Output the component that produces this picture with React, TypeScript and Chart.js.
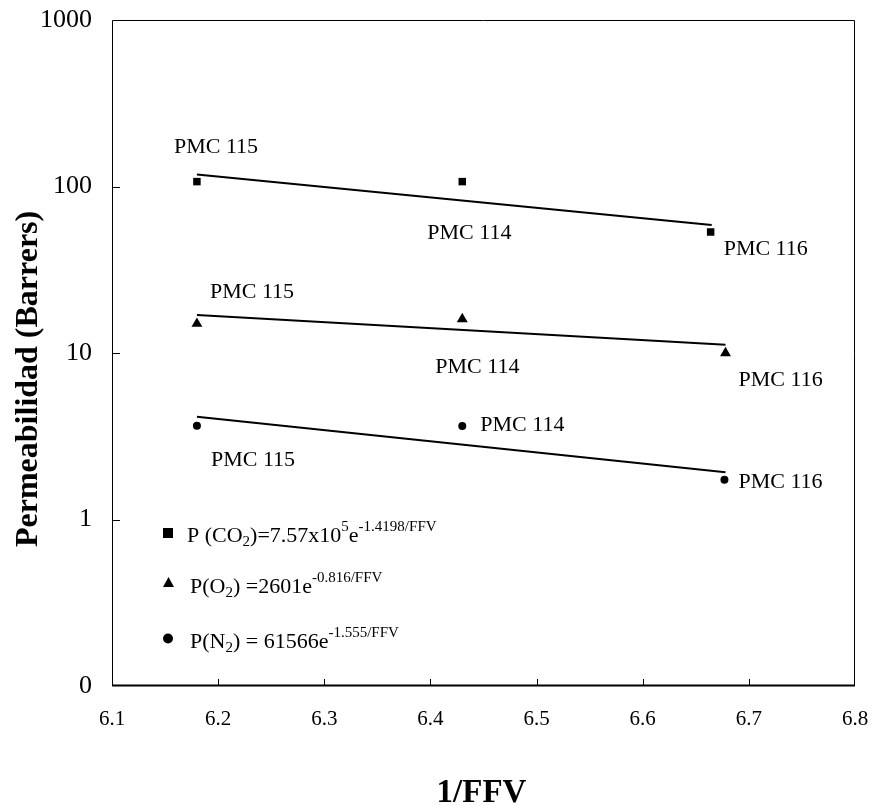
import React, { useEffect, useRef } from "react";
import { Chart, registerables } from "chart.js";

Chart.register(...registerables);

// ---- Axis ticks ----
const xTickValues = [6.1, 6.2, 6.3, 6.4, 6.5, 6.6, 6.7, 6.8];
const yTickValues = [0.1, 1, 10, 100, 1000];
const yTickLabels = ["0", "1", "10", "100", "1000"];

// ---- Measured points (x = 1/FFV, y = permeability in Barrers) ----
const co2X = [6.18, 6.43, 6.664];
const co2Y = [107, 107, 53.3];
const o2X = [6.18, 6.43, 6.678];
const o2Y = [15.0, 16.0, 10.0];
const n2X = [6.18, 6.43, 6.677];
const n2Y = [3.66, 3.65, 1.73];

// ---- Fitted trend lines (end points) ----
const co2FitX = [6.18, 6.665];
const co2FitY = [118, 58.7];
const o2FitX = [6.18, 6.678];
const o2FitY = [16.9, 11.2];
const n2FitX = [6.18, 6.678];
const n2FitY = [4.14, 1.92];

// ---- Point labels ----
const co2Labels = ["PMC 115", "PMC 114", "PMC 116"];
const o2Labels = ["PMC 115", "PMC 114", "PMC 116"];
const n2Labels = ["PMC 115", "PMC 114", "PMC 116"];

// ---- Legend equations: [text, kind] kind: n normal, b subscript, p superscript ----
const co2Equation: [string, string][] = [["P (CO", "n"], ["2", "b"], [")=7.57x10", "n"], ["5", "p"], ["e", "n"], ["-1.4198/FFV", "p"]];
const o2Equation: [string, string][] = [["P(O", "n"], ["2", "b"], [") =2601e", "n"], ["-0.816/FFV", "p"]];
const n2Equation: [string, string][] = [["P(N", "n"], ["2", "b"], [") = 61566e", "n"], ["-1.555/FFV", "p"]];

const xTitle = "1/FFV";
const yTitle = "Permeabilidad (Barrers)";

const SERIF = '"Liberation Serif", "Times New Roman", serif';

const pts = (xs: number[], ys: number[]) => xs.map((x, i) => ({ x, y: ys[i] }));

// pixel offsets of each label (left edge, baseline) from its point
const labelOffsets = [
  [[-23, -29], [-35, 57], [13, 23]],
  [[13, -26], [-27, 54], [13, 33]],
  [[14, 40], [18, 5], [14, 8]],
];

function drawRich(ctx: CanvasRenderingContext2D, x: number, baseline: number, parts: [string, string][]) {
  let cx = x;
  for (const [t, k] of parts) {
    const size = k === "n" ? 22 : 15;
    const dy = k === "b" ? 4 : k === "p" ? -11 : 0;
    ctx.font = `${size}px ${SERIF}`;
    ctx.fillText(t, cx, baseline + dy);
    cx += ctx.measureText(t).width;
  }
}

const overlay = {
  id: "overlay",
  afterDraw(chart: any) {
    const ctx: CanvasRenderingContext2D = chart.ctx;
    const { left, right, top, bottom } = chart.chartArea;
    const xs = chart.scales.x;
    const ys = chart.scales.y;
    ctx.save();
    ctx.strokeStyle = "#000";
    ctx.fillStyle = "#000";
    // frame
    ctx.lineWidth = 1;
    ctx.beginPath();
    ctx.moveTo(left + 0.5, bottom);
    ctx.lineTo(left + 0.5, top + 0.5);
    ctx.lineTo(right - 0.5, top + 0.5);
    ctx.lineTo(right - 0.5, bottom);
    ctx.stroke();
    ctx.lineWidth = 2;
    ctx.beginPath();
    ctx.moveTo(left, bottom - 0.5);
    ctx.lineTo(right, bottom - 0.5);
    ctx.stroke();
    // inward ticks
    ctx.lineWidth = 1;
    ctx.beginPath();
    yTickValues.slice(1, -1).forEach((v) => {
      const py = Math.round(ys.getPixelForValue(v)) + 0.5;
      ctx.moveTo(left, py);
      ctx.lineTo(left + 8, py);
    });
    xTickValues.slice(1, -1).forEach((v) => {
      const px = Math.round(xs.getPixelForValue(v)) + 0.5;
      ctx.moveTo(px, bottom);
      ctx.lineTo(px, bottom - 7);
    });
    ctx.stroke();

    // axis titles
    ctx.font = `bold 33px ${SERIF}`;
    ctx.textAlign = "center";
    ctx.textBaseline = "alphabetic";
    ctx.fillText(xTitle, (left + right) / 2 - 2, 802);
    ctx.save();
    ctx.translate(37, 547);
    ctx.rotate(-Math.PI / 2);
    ctx.font = `bold 32px ${SERIF}`;
    ctx.textAlign = "left";
    ctx.fillText(yTitle, 0, 0);
    ctx.restore();

    // point labels
    ctx.textAlign = "left";
    ctx.font = `22px ${SERIF}`;
    const labelSets = [co2Labels, o2Labels, n2Labels];
    labelSets.forEach((labels, s) => {
      const meta = chart.getDatasetMeta(3 + s);
      labels.forEach((lab, i) => {
        const el = meta.data[i];
        const [dx, dy] = labelOffsets[s][i];
        ctx.fillText(lab, el.x + dx, el.y + dy);
      });
    });

    // legend
    const lx = left + 51;
    ctx.fillRect(lx, 528, 10, 10);
    ctx.beginPath();
    ctx.moveTo(lx + 5.5, 577);
    ctx.lineTo(lx + 11, 587);
    ctx.lineTo(lx, 587);
    ctx.closePath();
    ctx.fill();
    ctx.beginPath();
    ctx.arc(lx + 5, 638.5, 5, 0, Math.PI * 2);
    ctx.fill();
    drawRich(ctx, lx + 24, 542, co2Equation);
    drawRich(ctx, lx + 27, 593, o2Equation);
    drawRich(ctx, lx + 27, 648, n2Equation);
    ctx.restore();
  },
};

export default function App() {
  const ref = useRef<HTMLCanvasElement | null>(null);
  useEffect(() => {
    if (!ref.current) return;
    const fit = (xs: number[], ys: number[]) => ({
      data: pts(xs, ys),
      showLine: true,
      borderColor: "#000",
      backgroundColor: "#000",
      borderWidth: 2,
      pointRadius: 0,
      tension: 0,
    });
    const mark = (xs: number[], ys: number[], style: string, r: number) => ({
      data: pts(xs, ys),
      showLine: false,
      pointStyle: style,
      pointRadius: r,
      pointBorderWidth: 0,
      borderColor: "#000",
      backgroundColor: "#000",
      pointBackgroundColor: "#000",
    });
    const chart = new Chart(ref.current, {
      type: "scatter",
      data: {
        datasets: [
          fit(co2FitX, co2FitY),
          fit(o2FitX, o2FitY),
          fit(n2FitX, n2FitY),
          mark(co2X, co2Y, "rect", 5.3),
          mark(o2X, o2Y, "triangle", 6.3),
          mark(n2X, n2Y, "circle", 4),
        ] as any,
      },
      options: {
        animation: false,
        responsive: false,
        devicePixelRatio: 1,
        layout: { padding: { left: 0, top: 20, right: 18, bottom: 0 } },
        plugins: { legend: { display: false }, tooltip: { enabled: false }, title: { display: false } },
        scales: {
          x: {
            type: "linear",
            min: 6.1,
            max: 6.8,
            afterFit: (s: any) => {
              s.height = 120;
              s.paddingLeft = 0;
              s.paddingRight = 0;
            },
            afterBuildTicks: (s: any) => {
              s.ticks = xTickValues.map((v) => ({ value: v }));
            },
            ticks: {
              color: "#000",
              font: { family: SERIF, size: 21 },
              padding: 21,
              maxRotation: 0,
              autoSkip: false,
              callback: (v: any) => Number(v).toFixed(1),
            },
            grid: { display: false, drawTicks: false },
            border: { display: false },
          },
          y: {
            type: "logarithmic",
            min: 0.1,
            max: 1000,
            afterFit: (s: any) => {
              s.width = 112;
              s.paddingTop = 0;
              s.paddingBottom = 0;
            },
            afterBuildTicks: (s: any) => {
              s.ticks = yTickValues.map((v) => ({ value: v }));
            },
            ticks: {
              color: "#000",
              font: { family: SERIF, size: 26 },
              padding: 20,
              autoSkip: false,
              callback: (v: any) => {
                const i = yTickValues.indexOf(Number(v));
                return i >= 0 ? yTickLabels[i] : "";
              },
            },
            grid: { display: false, drawTicks: false },
            border: { display: false },
          },
        },
      } as any,
      plugins: [overlay],
    });
    return () => chart.destroy();
  }, []);
  return (
    <div style={{ position: "absolute", left: 0, top: 0, width: 873, height: 806, background: "#fff" }}>
      <canvas ref={ref} width={873} height={806} style={{ display: "block" }} />
    </div>
  );
}
